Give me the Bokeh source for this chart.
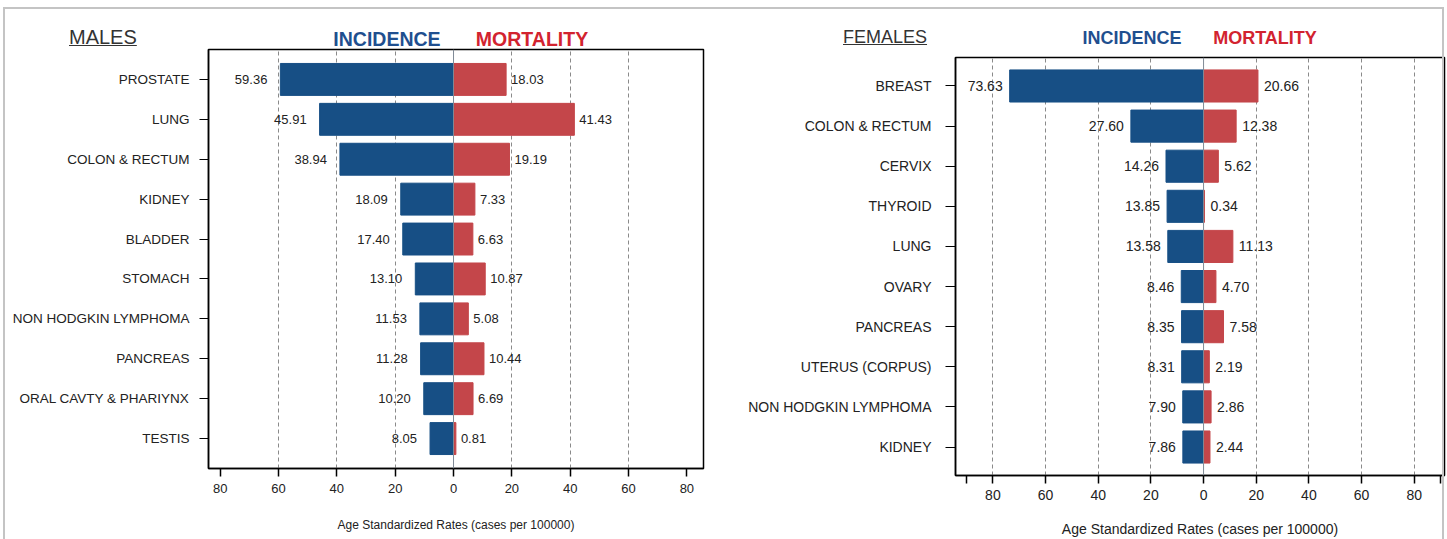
from bokeh.plotting import figure
from bokeh.models import (Range1d, FactorRange, FixedTicker, Span, ColumnDataSource, Div)
from bokeh.layouts import row, column
from bokeh.core.properties import value
from bokeh.embed import file_html
from bokeh.resources import INLINE

# ---------------- data ----------------
male_sites = ["PROSTATE", "LUNG", "COLON & RECTUM", "KIDNEY", "BLADDER", "STOMACH",
              "NON HODGKIN LYMPHOMA", "PANCREAS", "ORAL CAVTY & PHARIYNX", "TESTIS"]
male_incidence = [59.36, 45.91, 38.94, 18.09, 17.40, 13.10, 11.53, 11.28, 10.20, 8.05]
male_mortality = [18.03, 41.43, 19.19, 7.33, 6.63, 10.87, 5.08, 10.44, 6.69, 0.81]

female_sites = ["BREAST", "COLON & RECTUM", "CERVIX", "THYROID", "LUNG", "OVARY",
                "PANCREAS", "UTERUS (CORPUS)", "NON HODGKIN LYMPHOMA", "KIDNEY"]
female_incidence = [73.63, 27.60, 14.26, 13.85, 13.58, 8.46, 8.35, 8.31, 7.90, 7.86]
female_mortality = [20.66, 12.38, 5.62, 0.34, 11.13, 4.70, 7.58, 2.19, 2.86, 2.44]

axis_ticks_m = [-80, -60, -40, -20, 0, 20, 40, 60, 80]
axis_ticks_f = [-90, -80, -60, -40, -20, 0, 20, 40, 60, 80, 90]
grid_m = [-60, -40, -20, 20, 40, 60]
grid_f = [-80, -60, -40, -20, 20, 40, 60, 80]
x_title = "Age Standardized Rates (cases per 100000)"
legend_inc = "INCIDENCE"
legend_mort = "MORTALITY"

BLUE = "#174f85"
RED = "#c4464a"
TITLE_BLUE = "#1f4f8f"
TITLE_RED = "#d2232f"
FRAME_GRAY = "#c4c4c4"
FONT = value("Liberation Sans")

HEAD_H = 48


def heading(width, title, title_left, title_size, title_y, leg_size, leg_y,
            inc_cx, mort_cx, box_css):
    base = ("position:absolute;font-family:'Liberation Sans',Arial,sans-serif;"
            "line-height:1;white-space:nowrap;")
    html = (
        f'<div style="position:relative;width:{width}px;height:{HEAD_H}px;">'
        f'<div style="position:absolute;z-index:10;pointer-events:none;{box_css}"></div>'
        f'<span style="{base}left:{title_left}px;top:{title_y}px;font-size:{title_size}px;'
        f'color:#333;text-decoration:underline;text-underline-offset:1px;'
        f'text-decoration-thickness:1px;transform:translate(0,-50%);">{title}</span>'
        f'<span style="{base}left:{inc_cx}px;top:{leg_y}px;font-size:{leg_size}px;font-weight:bold;'
        f'color:{TITLE_BLUE};transform:translate(-50%,-50%);">{legend_inc}</span>'
        f'<span style="{base}left:{mort_cx}px;top:{leg_y}px;font-size:{leg_size}px;font-weight:bold;'
        f'color:{TITLE_RED};transform:translate(-50%,-50%);">{legend_mort}</span>'
        '</div>'
    )
    return Div(text=html, width=width, height=HEAD_H, margin=0)


def panel(sites, inc, mort, width, height, borders, xr, ticks, grid, pad,
          fs_y, fs_x, fs_val, gaps, y_tick_out, y_standoff, x_standoff,
          title_standoff, x_fs_title):
    src = ColumnDataSource(dict(
        site=sites,
        neg=[-v for v in inc],
        mort=mort,
        inc_lbl=[f"{v:.2f}" for v in inc],
        mort_lbl=[f"{v:.2f}" for v in mort],
    ))
    p = figure(width=width, height=height, output_backend="svg", toolbar_location=None,
               x_range=Range1d(*xr),
               y_range=FactorRange(factors=list(reversed(sites)), range_padding=pad,
                                   range_padding_units="absolute"),
               min_border_left=borders[0], min_border_right=borders[1],
               min_border_top=borders[2], min_border_bottom=borders[3], margin=0)
    p.background_fill_color = "white"
    p.border_fill_color = "white"
    p.outline_line_color = "black"
    p.outline_line_width = 1.5

    p.hbar(y="site", left="neg", right=0, height=0.8, source=src,
           fill_color=BLUE, line_color=BLUE)
    p.hbar(y="site", left=0, right="mort", height=0.8, source=src,
           fill_color=RED, line_color=RED)
    p.add_layout(Span(location=0, dimension="height", line_color="#7f8a96", line_width=1))

    p.text(x="neg", y="site", text="inc_lbl", source=src, x_offset=-gaps[0],
           text_align="right", text_baseline="middle", text_font=FONT,
           text_font_size=fs_val, text_color="#222222")
    p.text(x="mort", y="site", text="mort_lbl", source=src, x_offset=gaps[1],
           text_align="left", text_baseline="middle", text_font=FONT,
           text_font_size=fs_val, text_color="#222222")

    # grids
    p.ygrid.grid_line_color = None
    p.xgrid.ticker = FixedTicker(ticks=grid)
    p.xgrid.grid_line_color = "#8a8a8a"
    p.xgrid.grid_line_dash = "4 3"
    p.xgrid.grid_line_width = 1

    # x axis
    xa = p.xaxis[0]
    xa.ticker = FixedTicker(ticks=ticks)
    xa.major_label_overrides = {t: ("" if abs(t) == 90 else str(abs(t))) for t in ticks}
    xa.minor_tick_line_color = None
    xa.major_tick_in = 0
    xa.major_tick_out = 8
    xa.major_tick_line_color = "black"
    xa.major_tick_line_width = 1.5
    xa.axis_line_color = "black"
    xa.axis_line_width = 1.5
    xa.major_label_text_font = "Liberation Sans"
    xa.major_label_text_font_size = fs_x
    xa.major_label_text_color = "#222222"
    xa.major_label_standoff = x_standoff
    xa.axis_label = x_title
    xa.axis_label_text_font = "Liberation Sans"
    xa.axis_label_text_font_size = x_fs_title
    xa.axis_label_text_font_style = "normal"
    xa.axis_label_text_color = "#222222"
    xa.axis_label_standoff = title_standoff

    # y axis
    ya = p.yaxis[0]
    ya.major_tick_in = 0
    ya.major_tick_out = y_tick_out
    ya.major_tick_line_color = "black"
    ya.major_tick_line_width = 1.2
    ya.axis_line_color = "black"
    ya.axis_line_width = 1.5
    ya.major_label_text_font = "Liberation Sans"
    ya.major_label_text_font_size = fs_y
    ya.major_label_text_color = "#222222"
    ya.major_label_standoff = y_standoff
    return p


left_head = heading(720, "MALES", 69, 20, 37, 19.5, 40, 387, 532,
                    f"left:3px;top:7px;width:760px;height:600px;"
                    f"border-left:2px solid {FRAME_GRAY};border-top:2px solid {FRAME_GRAY};")
left = panel(male_sites, male_incidence, male_mortality, 720, 539 - HEAD_H,
             (208, 17, 49 - HEAD_H, 71), (-84.0, 85.7), axis_ticks_m, grid_m, 0.25,
             "13.5px", "13px", "13px", (13, 5), 9, 10, 7, 22, "12px")

right_head = heading(727, "FEMALES", 123, 18, 37, 18, 38, 412, 545,
                     f"left:0px;top:7px;width:724px;height:600px;"
                     f"border-right:2px solid {FRAME_GRAY};border-top:2px solid {FRAME_GRAY};")
right = panel(female_sites, female_incidence, female_mortality, 727, 539 - HEAD_H,
              (235, 3, 57 - HEAD_H, 64), (-94.2, 91.5), axis_ticks_f, grid_f, 0.21,
              "14px", "14px", "14px", (7, 6), 10, 14, 6, 18, "14px")

layout = row(column(left_head, left, margin=0), column(right_head, right, margin=0), margin=0)
open("out.html", "w").write(file_html(layout, INLINE))
